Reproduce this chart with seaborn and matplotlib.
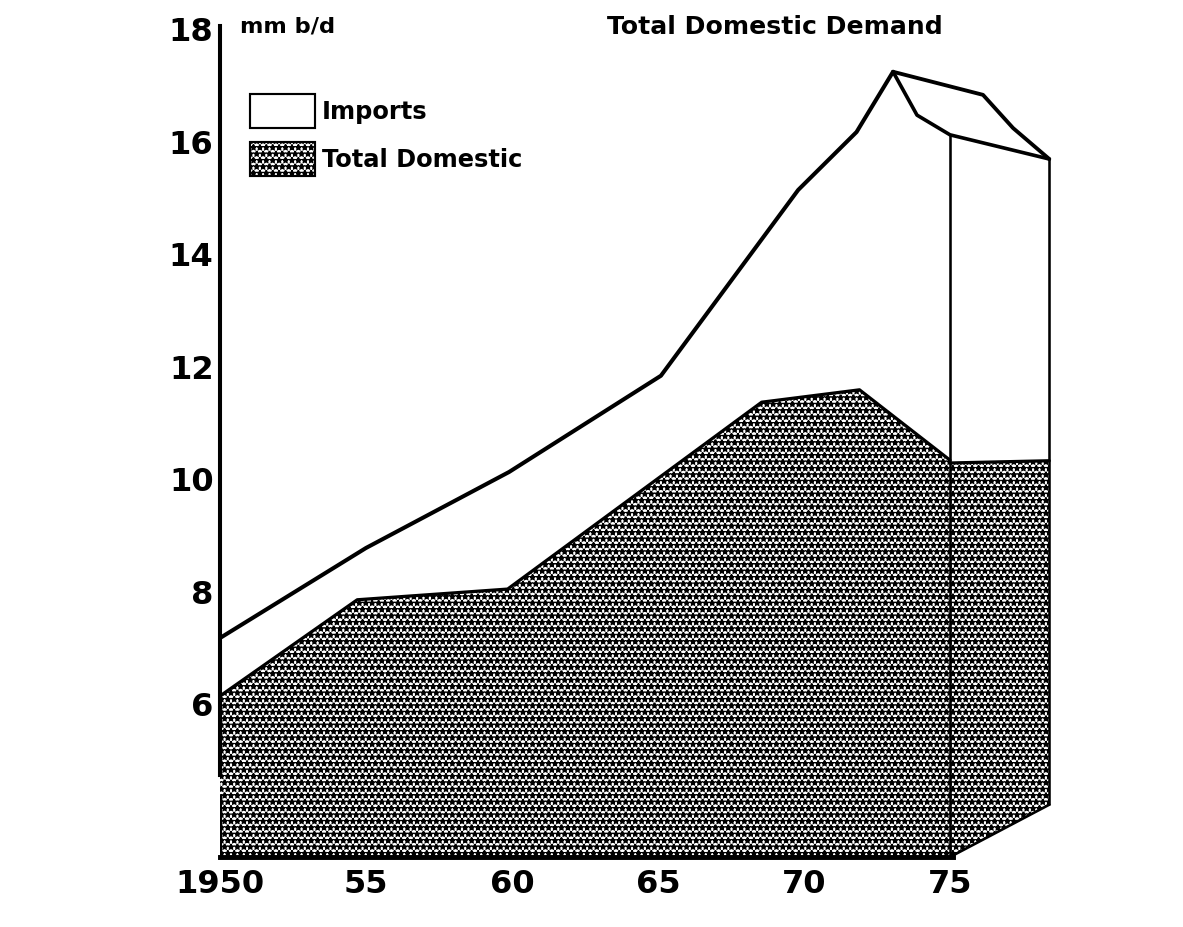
import matplotlib
matplotlib.use('Agg')
import matplotlib.pyplot as plt
import seaborn as sns
from matplotlib.patches import Patch

# Valeurs (millions de barils par jour)
total_years = [1950, 1955.0, 1959.9, 1965.1, 1969.8, 1971.8, 1973.05]
total_demand = [7.18, 8.78, 10.13, 11.84, 15.14, 16.17, 17.24]

dom_years = [1950, 1954.7, 1959.85, 1968.55, 1971.9, 1975.0]
domestic = [6.15, 7.86, 8.05, 11.37, 11.59, 10.34]

# la petite boite en perspective apres 1975
box_years = [1975.0, 1978.4]
box_domestic = [10.29, 10.33]
box_floor = [3.29, 4.22]
roof_back_years = [1973.05, 1976.13, 1977.16, 1978.4]
roof_back = [17.24, 16.83, 16.24, 15.69]
roof_front_years = [1973.05, 1973.87, 1975.0, 1978.4]
roof_front = [17.24, 16.47, 16.12, 15.69]

ytick_vals = [6, 8, 10, 12, 14, 16, 18]
xtick_vals = [1950, 1955, 1960, 1965, 1970, 1975]
xtick_labels = ['1950', '55', '60', '65', '70', '75']

DPI = 77
W, H = 1183, 927
HATCH = '**'
HATCH_LW = 1.6
sns.set_style('white')
plt.rcParams['font.family'] = ['DejaVu Sans']
plt.rcParams['hatch.linewidth'] = HATCH_LW
plt.rcParams['hatch.color'] = 'black'
for k in ['text.color', 'axes.labelcolor', 'xtick.color', 'ytick.color', 'axes.edgecolor']:
    plt.rcParams[k] = 'black'

fig = plt.figure(figsize=(W / DPI, H / DPI), dpi=DPI)
ax = fig.add_axes([220 / W, 70 / H, 880 / W, 847 / H])
y0 = 3.29

# surfaces pointillees
zones = [ax.fill_between(dom_years, domestic, y0, facecolor='white', edgecolor='black',
                         hatch=HATCH, linewidth=0),
         ax.fill_between(box_years, box_domestic, box_floor, facecolor='white',
                         edgecolor='black', hatch=HATCH, linewidth=0)]
for z in zones:
    if hasattr(z, 'set_hatch_linewidth'):
        z.set_hatch_linewidth(HATCH_LW)

# contours
sns.lineplot(x=total_years, y=total_demand, color='black', linewidth=3.8, ax=ax)
sns.lineplot(x=dom_years, y=domestic, color='black', linewidth=3.0, ax=ax)
sns.lineplot(x=roof_back_years, y=roof_back, color='black', linewidth=3.6, ax=ax)
sns.lineplot(x=roof_front_years, y=roof_front, color='black', linewidth=3.4, ax=ax)
sns.lineplot(x=box_years, y=box_domestic, color='black', linewidth=3.0, ax=ax)
sns.lineplot(x=box_years, y=box_floor, color='black', linewidth=2.5, ax=ax)
ax.vlines(box_years, box_floor, [roof_front[2], roof_front[3]], color='black', linewidth=2.4)

ax.set_xlim(1950, 1950 + 880 / 29.2)
ax.set_ylim(y0, 8 + (592 - 10) / 56.3)

# axes
sns.despine(ax=ax)
ax.spines['left'].set_bounds(4.75, 18.05)
ax.spines['left'].set_linewidth(3.8)
ax.spines['bottom'].set_bounds(1950, 1975.1)
ax.spines['bottom'].set_linewidth(4.6)
ax.plot([1950, 1950], [y0, 4.4], color='black', linewidth=3.8, solid_capstyle='butt')

ax.set_yticks(ytick_vals, labels=[str(v) for v in ytick_vals],
              fontsize=30, fontweight='bold')
ax.set_xticks(xtick_vals, labels=xtick_labels, fontsize=30, fontweight='bold')
ax.tick_params(axis='y', direction='in', length=9, width=2.5, pad=6)
ax.tick_params(axis='x', length=0, pad=11)

# textes
fig.text(775 / W, 1 - 27 / H, 'Total Domestic Demand', ha='center', va='center',
         fontweight='bold', fontsize=23.5)
fig.text(240 / W, 1 - 27 / H, 'mm b/d', ha='left', va='center',
         fontweight='bold', fontsize=21)

handles = [Patch(facecolor='white', edgecolor='black', linewidth=2),
           Patch(facecolor='white', edgecolor='black', hatch=HATCH, linewidth=2)]
if hasattr(handles[1], 'set_hatch_linewidth'):
    handles[1].set_hatch_linewidth(HATCH_LW)
LEG_FS = 22.5
fs_px = LEG_FS * DPI / 72
fig.legend(handles, ['Imports', 'Total Domestic'], loc='upper left',
           bbox_to_anchor=(250 / W, 1 - 94 / H), frameon=False,
           borderpad=0, borderaxespad=0, handlelength=65 / fs_px,
           handleheight=1.8, handletextpad=0.3, labelspacing=0.57,
           prop={'weight': 'bold', 'size': LEG_FS})

fig.savefig('out.png', dpi=DPI)
